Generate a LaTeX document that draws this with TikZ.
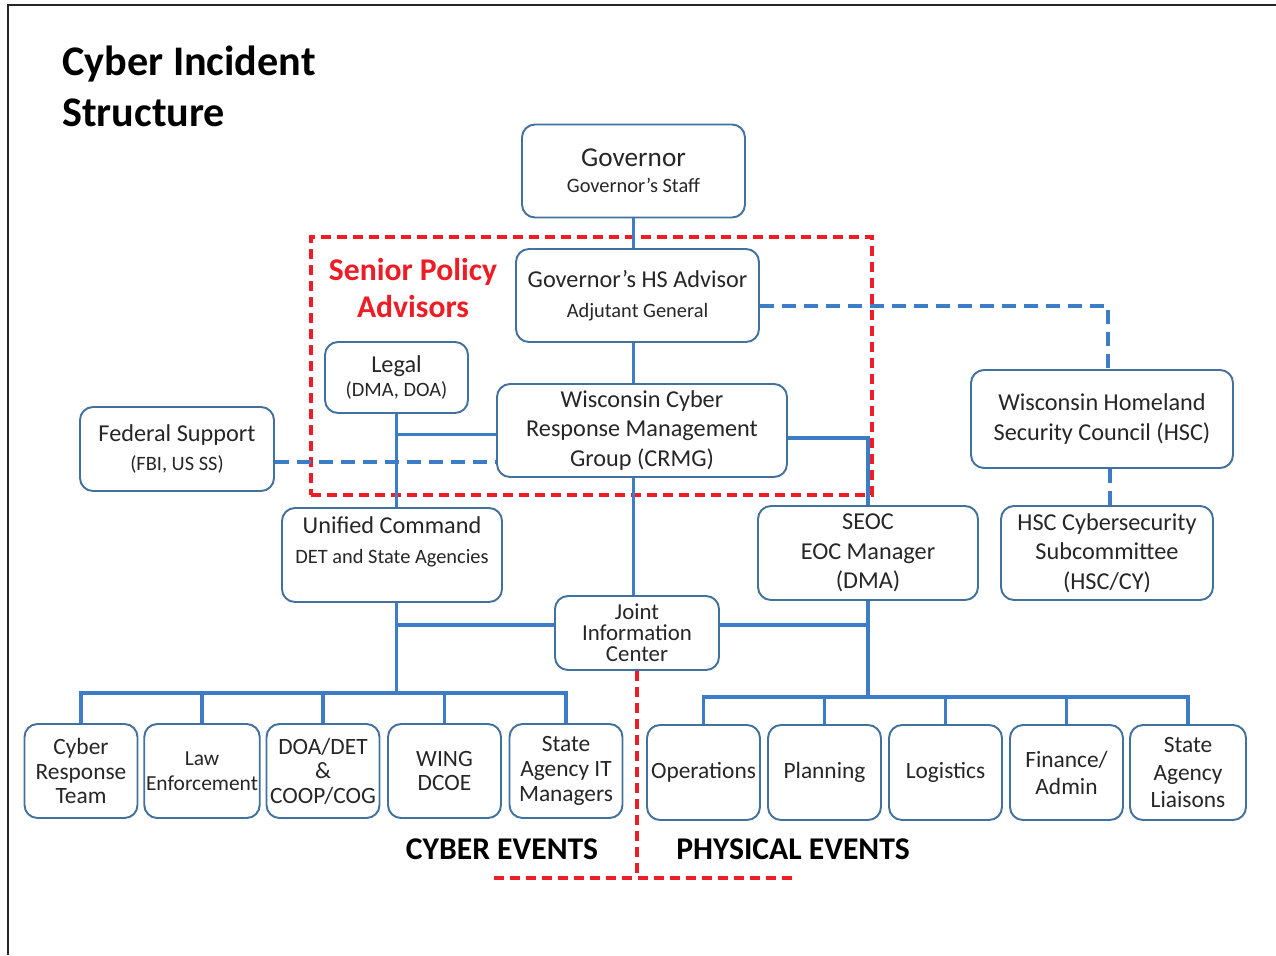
\documentclass[tikz,border=0pt]{standalone}
\usepackage{fontspec}
\setmainfont{Carlito}
\usepackage{tikz}
\usetikzlibrary{calc}
\definecolor{cisblue}{HTML}{41719C}
\definecolor{cisline}{HTML}{3D7CC6}
\definecolor{cisred}{HTML}{EE1C25}
\definecolor{cistext}{HTML}{262626}
\newcommand{\maintxt}{\fontsize{13.8}{16.8}\selectfont}
\newcommand{\subtxt}{\fontsize{11.6}{14}\selectfont}
\newcommand{\bigtxt}{\fontsize{15.5}{17}\selectfont}
\tikzset{
  frame/.style     = {draw=black!85, line width=1.2pt},
  sz/.style 2 args = {minimum width=#1*0.2mm, minimum height=#2*0.2mm},
  orgbox/.style    = {draw=cisblue, fill=white, rounded corners=2.6mm,
                      line width=1.1pt, align=center, text=cistext,
                      inner sep=1pt, font=\maintxt},
  cyberbox/.style  = {orgbox, sz={113}{94},
                      font=\fontsize{13.3}{14}\selectfont},
  physbox/.style   = {orgbox, sz={113}{95},
                      font=\fontsize{13.3}{15.4}\selectfont},
  link/.style      = {draw=cisline, line width=2pt},
  dlink/.style     = {link, dash pattern=on 2.8mm off 1.6mm},
  redline/.style   = {draw=cisred, line width=2.2pt,
                      dash pattern=on 2mm off 1.2mm},
  seniorbox/.style = {redline, inner sep=0pt},
  title/.style     = {font=\fontsize{24}{28.5}\selectfont\bfseries,
                      align=left, inner sep=0pt, text=black},
  redlbl/.style    = {font=\fontsize{18}{21.6}\selectfont\bfseries,
                      align=center, inner sep=0pt, text=cisred},
  eventlbl/.style  = {font=\fontsize{18}{20}\selectfont\bfseries,
                      inner sep=0pt, text=black},
}

\begin{document}
\begin{tikzpicture}[x=0.2mm, y=-0.2mm]

  \useasboundingbox (0,0) rectangle (1276,955);
  \draw[frame] (8,955) -- (8,5) -- (1276,5);

  \node[title, anchor=north west] (ttl) at (62,46) {Cyber Incident\\Structure};

  % ---- senior policy advisors ------------------------------------------
  \node[seniorbox, sz={561}{258}] (spa) at (591.5,366) {};
  \node[redlbl] (spalbl) at (413,288) {Senior Policy\\Advisors};

  % ---- upper chain ------------------------------------------------------
  \node[orgbox, sz={223}{93}] (gov) at (633.5,171)
    {\bigtxt Governor\\[-2pt] \subtxt Governor’s Staff};
  \node[orgbox, sz={243}{93}] (hsadv) at (637.5,295.5)
    {Governor’s HS Advisor\\ \subtxt Adjutant General};
  \node[orgbox, sz={143}{71}] (legal) at (396.5,377.5)
    {Legal\\[-3pt] \subtxt (DMA, DOA)};
  \node[orgbox, sz={290}{93}] (crmg) at (642,430.5)
    {Wisconsin Cyber\\ Response Management\\ Group (CRMG)};
  \node[orgbox, sz={194}{84}] (fed) at (177,449)
    {Federal Support\\ \subtxt (FBI, US SS)};
  \node[orgbox, sz={262}{98}] (hsc) at (1102,419)
    {Wisconsin Homeland\\ Security Council (HSC)};
  \node[orgbox, sz={212}{94}] (hsccy) at (1107,553)
    {HSC Cybersecurity\\ Subcommittee\\ (HSC/CY)};

  % ---- command level ----------------------------------------------------
  \node[orgbox, sz={220}{94}] (uc) at (392,555)
    {Unified Command\\ \subtxt DET and State Agencies\\ \mbox{}};
  \node[orgbox, sz={220}{94}] (seoc) at (868,553)
    {SEOC\\ EOC Manager\\ (DMA)};
  \node[orgbox, sz={164}{74}, font=\fontsize{13}{12}\selectfont] (jic)
    at (637,633) {Joint\\ Information\\ Center};

  % ---- cyber events row -------------------------------------------------
  \node[cyberbox] (crt)   at (81,771)    {Cyber\\ Response\\ Team};
  \node[cyberbox, font=\fontsize{12.2}{14.5}\selectfont] (law)
                          at (202,771)   {Law\\ Enforcement};
  \node[cyberbox] (doa)   at (323,771)   {DOA/DET\\ \&\\ COOP/COG};
  \node[cyberbox] (wing)  at (444.5,771) {WING\\ DCOE};
  \node[cyberbox] (saitm) at (566,771)   {State\\ Agency IT\\ Managers};

  % ---- physical events row ----------------------------------------------
  \node[physbox] (ops)  at (703.5,772.5)  {Operations};
  \node[physbox] (plan) at (824.5,772.5)  {Planning};
  \node[physbox] (logi) at (945.5,772.5)  {Logistics};
  \node[physbox] (fin)  at (1066.5,772.5) {Finance/\\ Admin};
  \node[physbox, sz={116}{95}] (sal) at (1188,772.5)
    {State\\ Agency\\ Liaisons};

  \node[eventlbl] (cyev)  at (502,849) {CYBER EVENTS};
  \node[eventlbl] (phyev) at (793,849) {PHYSICAL EVENTS};

  \coordinate (cbus) at (0,693);
  \coordinate (pbus) at (0,697);
  \coordinate (redknee)  at (637,878);
  \coordinate (redleft)  at (494,878);
  \coordinate (redright) at (797,878);

  % ---- solid links ------------------------------------------------------
  \draw[link] (gov.south) -- (gov.south |- hsadv.north);
  \draw[link] (gov.south |- hsadv.south) -- (gov.south |- crmg.north);
  \draw[link] (gov.south |- crmg.south) -- (gov.south |- jic.north);
  \draw[link] (legal.south) -- (legal.south |- uc.north);
  \draw[link] ([yshift=-0.8mm]crmg.west) -- ([yshift=-0.8mm]crmg.west -| legal.south);
  \draw[link] ([yshift=-1.5mm]crmg.east) -| (seoc.north);
  \draw[link] (legal.south |- uc.south) -- (legal.south |- cbus);
  \draw[link] ([yshift=1.6mm]jic.west) -- ([yshift=1.6mm]jic.west -| legal.south);
  \draw[link] ([yshift=1.6mm]jic.east) -- ([yshift=1.6mm]jic.east -| seoc.south);
  \draw[link] (seoc.south) -- (seoc.south |- pbus);

  \draw[link] (crt.north) -- (crt.north |- cbus) -- (saitm.north |- cbus)
    -- (saitm.north);
  \draw[link] (law.north)  -- (law.north |- cbus);
  \draw[link] (doa.north)  -- (doa.north |- cbus);
  \draw[link] (wing.north) -- (wing.north |- cbus);

  \draw[link] (ops.north) -- (ops.north |- pbus) -- (sal.north |- pbus)
    -- (sal.north);
  \draw[link] (plan.north) -- (plan.north |- pbus);
  \draw[link] (logi.north) -- (logi.north |- pbus);
  \draw[link] (fin.north)  -- (fin.north |- pbus);

  % ---- dashed links -----------------------------------------------------
  \draw[dlink] ([yshift=-2.6mm]fed.east) -- ([yshift=-2.6mm]fed.east -| crmg.west);
  \draw[dlink] ([yshift=-2.1mm]hsadv.east) -| ([xshift=1.2mm]hsc.north);
  \draw[dlink] ([xshift=0.6mm]hsccy.north |- hsc.south) -- ([xshift=0.6mm]hsccy.north);

  % ---- cyber / physical divider -----------------------------------------
  \draw[redline] (jic.south) -- (jic.south |- redknee);
  \draw[redline] (redleft) -- (redright);

\end{tikzpicture}
\end{document}
